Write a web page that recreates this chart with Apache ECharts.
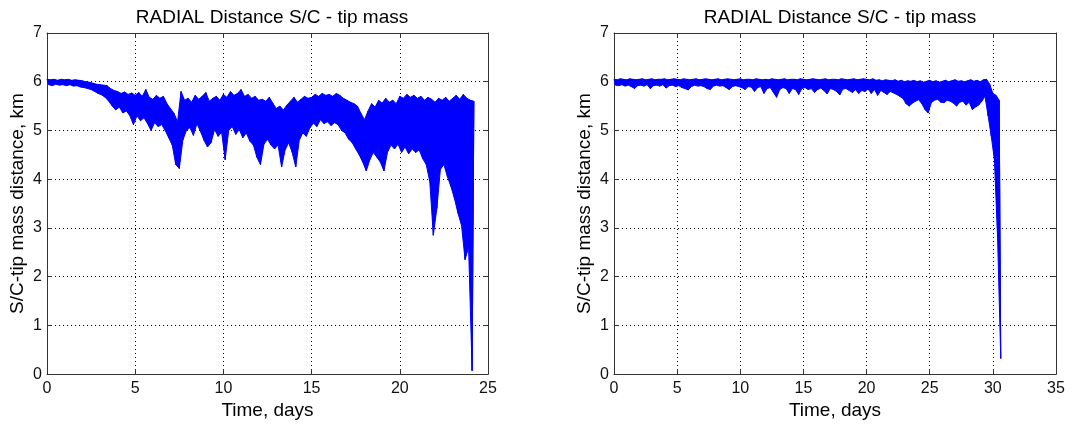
<!DOCTYPE html>
<html>
<head>
<meta charset="utf-8">
<script src="https://cdn.jsdelivr.net/npm/echarts@6/dist/echarts.min.js"></script>
<style>
  html, body { margin: 0; padding: 0; background: #fff; }
  #chart { width: 1074px; height: 425px; }
</style>
</head>
<body>
<div id="chart"></div>
<script>
// envelope of the distance signal
// hi at t = k*step, lo at t = k*step + step/2
var leftStep = 0.2;
var leftHi = [
  6.05,6.04,6.05,6.03,6.05,6.04,6.05,6.03,6.04,6.03,
  6.02,6.00,5.99,5.97,5.95,5.94,5.93,5.92,5.86,5.82,
  5.80,5.76,5.79,5.74,5.77,5.72,5.78,5.70,5.84,5.68,
  5.64,5.72,5.66,5.70,5.55,5.45,5.35,5.18,5.80,5.62,
  5.66,5.58,5.72,5.64,5.70,5.78,5.60,5.66,5.70,5.62,
  5.74,5.68,5.80,5.72,5.76,5.84,5.70,5.74,5.66,5.70,
  5.62,5.64,5.60,5.68,5.56,5.45,5.50,5.42,5.52,5.60,
  5.68,5.58,5.64,5.70,5.66,5.68,5.74,5.70,5.76,5.72,
  5.74,5.70,5.76,5.72,5.66,5.62,5.58,5.55,5.50,5.35,
  5.22,5.40,5.55,5.48,5.62,5.56,5.66,5.58,5.62,5.55,
  5.70,5.66,5.74,5.68,5.72,5.66,5.70,5.62,5.68,5.64,
  5.58,5.66,5.62,5.68,5.60,5.66,5.72,5.64,5.74,5.66,
  5.62,5.60
];
var leftLo = [
  5.94,5.92,5.95,5.93,5.94,5.92,5.94,5.91,5.92,5.89,
  5.88,5.86,5.84,5.80,5.76,5.73,5.68,5.60,5.50,5.42,
  5.48,5.36,5.40,5.30,5.12,5.30,5.20,5.26,5.14,5.00,
  5.16,5.08,5.12,5.00,4.85,4.70,4.30,4.22,4.80,5.00,
  5.06,4.90,5.14,4.98,4.80,4.66,4.75,5.02,4.88,4.96,
  4.40,5.00,5.08,4.92,5.02,4.85,4.95,4.78,4.70,4.45,
  4.30,4.72,4.82,4.70,4.62,4.70,4.25,4.60,4.75,4.55,
  4.25,4.80,4.95,4.88,5.05,5.15,5.08,5.22,5.14,5.18,
  5.10,5.16,5.12,5.00,4.95,4.82,4.75,4.62,4.50,4.35,
  4.17,4.40,4.55,4.45,4.35,4.17,4.55,4.70,4.62,4.72,
  4.55,4.66,4.52,4.62,4.55,4.60,4.42,4.30,3.95,2.85,
  3.40,4.20,4.30,4.05,3.85,3.60,3.30,3.05,2.35,2.60,
  0.07
];

var rightStep = 0.25;
var rightHi = [
  6.05,6.04,6.06,6.05,6.04,6.06,6.05,6.04,
  6.05,6.06,6.04,6.05,6.06,6.04,6.05,6.05,
  6.06,6.04,6.05,6.06,6.05,6.04,6.06,6.05,
  6.04,6.05,6.06,6.04,6.05,6.06,6.05,6.04,
  6.05,6.06,6.04,6.05,6.06,6.05,6.04,6.05,
  6.06,6.04,6.05,6.05,6.04,6.06,6.05,6.04,
  6.05,6.04,6.06,6.05,6.04,6.05,6.06,6.04,
  6.05,6.05,6.04,6.06,6.05,6.04,6.05,6.06,
  6.05,6.04,6.05,6.06,6.04,6.05,6.05,6.04,
  6.06,6.05,6.04,6.05,6.06,6.04,6.05,6.06,
  6.05,6.04,6.06,6.03,6.04,6.02,6.04,6.03,
  6.02,6.04,6.01,6.03,6.00,6.02,6.01,6.03,
  6.00,6.02,5.99,6.01,6.03,6.00,6.02,5.99,
  6.01,6.03,6.00,6.02,6.04,6.01,6.02,6.00,
  6.02,6.04,6.01,6.03,6.00,6.04,6.05,5.95,
  5.76,5.72,5.62
];
var rightLo = [
  5.93,5.92,5.94,5.91,5.93,5.90,5.86,5.92,
  5.93,5.91,5.94,5.86,5.92,5.93,5.91,5.94,
  5.87,5.92,5.93,5.90,5.92,5.88,5.86,5.83,
  5.90,5.93,5.91,5.92,5.90,5.86,5.84,5.91,
  5.93,5.91,5.92,5.88,5.84,5.90,5.92,5.90,
  5.88,5.84,5.90,5.89,5.80,5.88,5.90,5.76,
  5.86,5.88,5.78,5.68,5.84,5.88,5.86,5.76,
  5.86,5.84,5.74,5.86,5.88,5.84,5.86,5.78,
  5.84,5.87,5.82,5.75,5.86,5.84,5.80,5.73,
  5.85,5.86,5.82,5.78,5.84,5.76,5.82,5.80,
  5.85,5.76,5.84,5.72,5.82,5.78,5.74,5.80,
  5.77,5.74,5.70,5.66,5.55,5.50,5.56,5.60,
  5.63,5.55,5.43,5.36,5.57,5.62,5.64,5.58,
  5.57,5.62,5.60,5.56,5.50,5.58,5.60,5.52,
  5.58,5.43,5.48,5.52,5.60,5.70,5.30,4.88,
  4.40,2.80,0.32
];

var titleText = "RADIAL Distance S/C - tip mass";
var xName = "Time, days";
var yName = "S/C-tip mass distance, km";

// zigzag between upper and lower envelope
function zigzag(step, hi, lo) {
  var pts = [];
  for (var k = 0; k < hi.length; k++) {
    var t = +(k * step).toFixed(3);
    pts.push([t, hi[k]]);
    if (k < lo.length) pts.push([+(t + step / 2).toFixed(3), lo[k]]);
  }
  return pts;
}

// closed outline: upper points forward, lower points back
function outline(step, hi, lo) {
  var pts = [];
  for (var k = 0; k < hi.length; k++) pts.push([+(k * step).toFixed(3), hi[k]]);
  for (var j = lo.length - 1; j >= 0; j--) pts.push([+(j * step + step / 2).toFixed(3), lo[j]]);
  return pts;
}

function bandSeries(idx, pts) {
  return {
    type: "custom", xAxisIndex: idx, yAxisIndex: idx,
    data: pts, silent: true, clip: true,
    renderItem: function (params, api) {
      if (params.dataIndex !== 0) return null;
      var poly = pts.map(function (p) { return api.coord(p); });
      return {
        type: "polygon",
        shape: { points: poly },
        style: { fill: "#0000ff", stroke: "#0000ff", lineWidth: 1 }
      };
    }
  };
}

var FONT = "Liberation Sans";
var gridLine = { show: true, lineStyle: { color: "#000", width: 1, type: [1, 3] } };
var tick = { show: true, inside: true, length: 5, lineStyle: { color: "#333" } };
var axLine = { show: true, onZero: false, lineStyle: { color: "#333", width: 1 } };

function mainX(idx, max) {
  return {
    type: "value", gridIndex: idx, min: 0, max: max, interval: 5,
    axisLine: axLine, axisTick: tick, splitLine: gridLine,
    axisLabel: { color: "#111", fontFamily: FONT, fontSize: 16, margin: 6 },
    name: xName, nameLocation: "middle", nameGap: 23,
    nameTextStyle: { color: "#000", fontFamily: FONT, fontSize: 19 }
  };
}
function topX(idx, max) {
  return {
    type: "value", gridIndex: idx, position: "top", min: 0, max: max, interval: 5,
    axisLine: axLine, axisTick: tick, axisLabel: { show: false }, splitLine: { show: false }
  };
}
function mainY(idx) {
  return {
    type: "value", gridIndex: idx, min: 0, max: 7, interval: 1,
    axisLine: axLine, axisTick: tick, splitLine: gridLine,
    axisLabel: { color: "#111", fontFamily: FONT, fontSize: 16, margin: 5 },
    name: yName, nameLocation: "middle", nameGap: 20,
    nameTextStyle: { color: "#000", fontFamily: FONT, fontSize: 19 }
  };
}
function rightY(idx) {
  return {
    type: "value", gridIndex: idx, position: "right", min: 0, max: 7, interval: 1,
    axisLine: axLine, axisTick: tick, axisLabel: { show: false }, splitLine: { show: false }
  };
}

var myChart = echarts.init(document.getElementById("chart"));

var option = {
  animation: false,
  backgroundColor: "#fff",
  title: [
    { text: titleText, left: 267, top: 3, textAlign: "center",
      textStyle: { color: "#000", fontFamily: FONT, fontSize: 19, fontWeight: "normal" } },
    { text: titleText, left: 835, top: 3, textAlign: "center",
      textStyle: { color: "#000", fontFamily: FONT, fontSize: 19, fontWeight: "normal" } }
  ],
  grid: [
    { left: 47, top: 33, width: 441, height: 342 },
    { left: 614, top: 33, width: 442, height: 342 }
  ],
  xAxis: [mainX(0, 25), mainX(1, 35), topX(0, 25), topX(1, 35)],
  yAxis: [mainY(0), mainY(1), rightY(0), rightY(1)],
  series: [
    bandSeries(0, outline(leftStep, leftHi, leftLo)),
    bandSeries(1, outline(rightStep, rightHi, rightLo)),
    {
      type: "line", xAxisIndex: 0, yAxisIndex: 0,
      data: zigzag(leftStep, leftHi, leftLo),
      showSymbol: false, sampling: null,
      lineStyle: { color: "#0000ff", width: 1 }
    },
    {
      type: "line", xAxisIndex: 1, yAxisIndex: 1,
      data: zigzag(rightStep, rightHi, rightLo),
      showSymbol: false, sampling: null,
      lineStyle: { color: "#0000ff", width: 1 }
    }
  ]
};

myChart.setOption(option);
</script>
</body>
</html>
